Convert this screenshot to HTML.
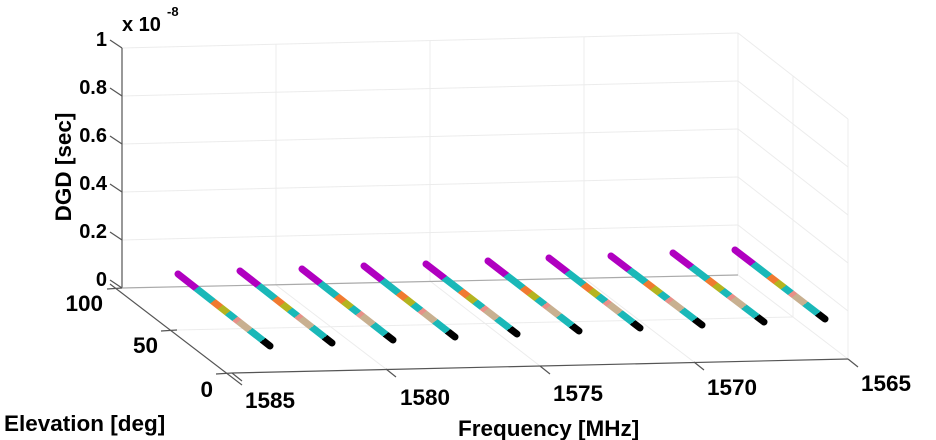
<!DOCTYPE html>
<html><head><meta charset="utf-8"><style>
html,body{margin:0;padding:0;background:#fff;}
svg{display:block;}
text{font-family:"Liberation Sans",Arial,sans-serif;font-weight:bold;fill:#000;}
</style></head><body>
<svg width="936" height="440" viewBox="0 0 936 440" xmlns="http://www.w3.org/2000/svg">
<defs>
<linearGradient id="g" x1="0" y1="0" x2="1" y2="1">
<stop offset="0" stop-color="#b000c0"/><stop offset="0.2" stop-color="#b000c0"/>
<stop offset="0.2" stop-color="#1ab8b8"/><stop offset="0.38" stop-color="#1ab8b8"/>
<stop offset="0.38" stop-color="#f07a30"/><stop offset="0.46" stop-color="#f07a30"/>
<stop offset="0.46" stop-color="#b4b420"/><stop offset="0.54" stop-color="#b4b420"/>
<stop offset="0.54" stop-color="#1ab8b8"/><stop offset="0.62" stop-color="#1ab8b8"/>
<stop offset="0.62" stop-color="#e89088"/><stop offset="0.66" stop-color="#e89088"/>
<stop offset="0.66" stop-color="#c8b090"/><stop offset="0.78" stop-color="#c8b090"/>
<stop offset="0.78" stop-color="#1ab8b8"/><stop offset="0.92" stop-color="#1ab8b8"/>
<stop offset="0.92" stop-color="#000"/><stop offset="1" stop-color="#000"/>
</linearGradient>
</defs>
<g stroke="#ececec" stroke-width="1" fill="none">
<line x1="122" y1="48" x2="738" y2="33"/>
<line x1="122" y1="96" x2="738" y2="81"/>
<line x1="122" y1="144" x2="738" y2="129"/>
<line x1="122" y1="192" x2="738" y2="177"/>
<line x1="122" y1="240" x2="738" y2="225"/>
<line x1="276" y1="44" x2="276" y2="285"/>
<line x1="430" y1="41" x2="430" y2="281"/>
<line x1="584" y1="37" x2="584" y2="278"/>
<line x1="738" y1="33" x2="738" y2="275"/>
<line x1="738" y1="33" x2="848" y2="119"/>
<line x1="738" y1="81" x2="848" y2="167"/>
<line x1="738" y1="129" x2="848" y2="215"/>
<line x1="738" y1="177" x2="848" y2="263"/>
<line x1="738" y1="225" x2="848" y2="311"/>
<line x1="793" y1="76" x2="793" y2="317"/>
<line x1="848" y1="119" x2="848" y2="359"/>
<line x1="177" y1="330" x2="793" y2="317"/>
<line x1="276" y1="285" x2="386" y2="369"/>
<line x1="430" y1="281" x2="540" y2="366"/>
<line x1="584" y1="278" x2="694" y2="362"/>
<line x1="738" y1="275" x2="848" y2="359"/>
</g>
<g stroke="#555" stroke-width="1.2" fill="none">
<line x1="122" y1="48" x2="122" y2="288"/>
<line x1="122" y1="288" x2="738" y2="275" stroke="#aaa"/>
<line x1="110" y1="284" x2="242" y2="385"/>
<line x1="232" y1="373" x2="848" y2="359"/>
<line x1="110" y1="40" x2="122" y2="48"/>
<line x1="110" y1="88" x2="122" y2="96"/>
<line x1="110" y1="136" x2="122" y2="144"/>
<line x1="110" y1="184" x2="122" y2="192"/>
<line x1="110" y1="232" x2="122" y2="240"/>
<line x1="110" y1="280" x2="122" y2="288"/>
<line x1="107" y1="289" x2="122" y2="288"/>
<line x1="161" y1="331" x2="177" y2="330"/>
<line x1="216" y1="374" x2="232" y2="373"/>
<line x1="232" y1="373" x2="242" y2="381"/>
<line x1="386" y1="369" x2="396" y2="377"/>
<line x1="540" y1="366" x2="550" y2="374"/>
<line x1="694" y1="362" x2="704" y2="370"/>
<line x1="848" y1="359" x2="858" y2="367"/>
</g>
<g stroke="url(#g)" stroke-width="7" stroke-linecap="round" fill="none">
<line x1="178" y1="274" x2="270" y2="346"/>
<line x1="240" y1="271" x2="332" y2="343"/>
<line x1="302" y1="269" x2="393" y2="340"/>
<line x1="364" y1="266" x2="455" y2="337"/>
<line x1="426" y1="264" x2="517" y2="334"/>
<line x1="488" y1="261" x2="579" y2="331"/>
<line x1="549" y1="258" x2="640" y2="328"/>
<line x1="611" y1="256" x2="702" y2="325"/>
<line x1="673" y1="253" x2="764" y2="322"/>
<line x1="735" y1="250" x2="825" y2="319"/>
</g>
<g font-size="20" text-anchor="end">
<text x="107" y="46">1</text>
<text x="107" y="94">0.8</text>
<text x="107" y="142">0.6</text>
<text x="107" y="190">0.4</text>
<text x="107" y="238">0.2</text>
<text x="107" y="286">0</text>
</g>
<g font-size="22.5" text-anchor="end">
<text x="103" y="311">100</text>
<text x="158" y="353">50</text>
<text x="213" y="397">0</text>
</g>
<text x="122" y="31" font-size="20">x 10</text>
<text x="167" y="16" font-size="13">-8</text>
<text transform="translate(71,167) rotate(-90)" font-size="22.5" text-anchor="middle">DGD [sec]</text>
<g font-size="22.5" text-anchor="middle">
<text x="270" y="408">1585</text>
<text x="425" y="405">1580</text>
<text x="578" y="401">1575</text>
<text x="732" y="395">1570</text>
<text x="886" y="391">1565</text>
</g>
<text x="4" y="431" font-size="22.5">Elevation [deg]</text>
<text x="458" y="436" font-size="22.5">Frequency [MHz]</text>
</svg>
</body></html>
